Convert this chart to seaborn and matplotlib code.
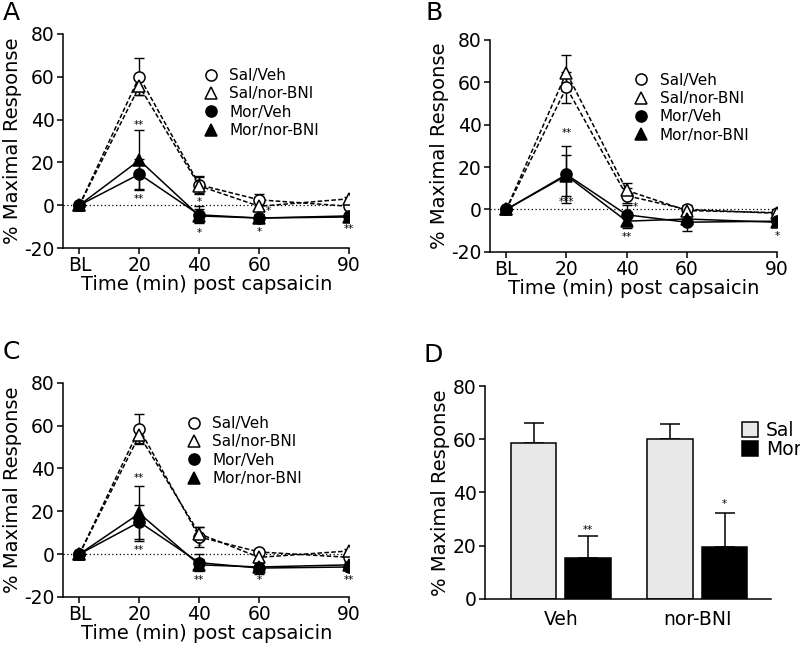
import numpy as np
import pandas as pd
import matplotlib
matplotlib.use('Agg')
import matplotlib.pyplot as plt
from matplotlib.lines import Line2D
from matplotlib.patches import Patch
import seaborn as sns

# --- style ---
sns.set_style('ticks')
plt.rcParams.update({
    'font.family': ['DejaVu Sans'],
    'axes.unicode_minus': False,
    'text.color': 'black',
    'axes.labelcolor': 'black',
    'axes.edgecolor': 'black',
    'xtick.color': 'black',
    'ytick.color': 'black',
    'axes.linewidth': 1.1,
    'xtick.major.width': 1.1,
    'ytick.major.width': 1.1,
    'xtick.major.size': 4,
    'ytick.major.size': 4,
    'xtick.labelsize': 13.5,
    'ytick.labelsize': 13.5,
})

# --- data ---
time = [0, 20, 40, 60, 90]
time_labels = ['BL', '20', '40', '60', '90']
series = ['Sal/Veh', 'Sal/nor-BNI', 'Mor/Veh', 'Mor/nor-BNI']

A_sal_veh = [0, 60.0, 9.5, 2.5, -0.5]
A_sal_veh_err = [0, 8.5, 4.0, 2.5, 1.5]
A_sal_nor = [0, 55.5, 9.0, -0.5, 3.0]
A_sal_nor_err = [0, 4.0, 4.0, 2.0, 1.0]
A_mor_veh = [0, 14.5, -4.5, -6.0, -5.0]
A_mor_veh_err = [0, 7.0, 4.0, 2.0, 1.5]
A_mor_nor = [0, 21.0, -5.0, -6.0, -5.5]
A_mor_nor_err = [0, 14.0, 3.0, 2.0, 1.5]
A_stars = [(20, 37.5, '**'), (20, 3.0, '**'), (40, 1.5, '*'), (40, -13, '*'),
           (60, -12.5, '*'), (63, -2.5, '*'), (90, -11, '**')]

B_sal_veh = [0, 57.5, 6.5, 0.0, -1.8]
B_sal_veh_err = [0, 7.5, 3.5, 2.0, 1.0]
B_sal_nor = [0, 64.5, 9.0, -0.5, -1.5]
B_sal_nor_err = [0, 8.5, 3.5, 2.0, 1.0]
B_mor_veh = [0, 16.5, -2.5, -6.0, -5.5]
B_mor_veh_err = [0, 13.5, 4.5, 4.0, 1.0]
B_mor_nor = [0, 16.0, -5.5, -4.5, -6.0]
B_mor_nor_err = [0, 9.5, 3.0, 2.0, 1.5]
B_stars = [(20, 36, '**'), (20, 3.5, '***'), (43, 1, '*'), (40, -13, '**'),
           (90, -12.5, '*')]

C_sal_veh = [0, 58.5, 8.0, 1.0, -1.5]
C_sal_veh_err = [0, 7.0, 4.5, 1.5, 1.0]
C_sal_nor = [0, 55.5, 9.5, -1.5, 1.5]
C_sal_nor_err = [0, 3.5, 3.0, 1.5, 1.0]
C_mor_veh = [0, 15.0, -4.0, -6.5, -6.0]
C_mor_veh_err = [0, 8.0, 4.0, 3.0, 1.5]
C_mor_nor = [0, 19.0, -5.0, -6.0, -5.0]
C_mor_nor_err = [0, 13.0, 2.5, 2.0, 1.5]
C_stars = [(20, 35.5, '**'), (20, 2.0, '**'), (40, 3.5, '*'), (40, -12, '**'),
           (60, -12, '*'), (90, -12, '**')]

D_groups = ['Veh', 'nor-BNI']
D_treat = ['Sal', 'Mor']
D_sal = [58.6, 60.2]
D_sal_err = [7.6, 5.7]
D_mor = [15.3, 19.6]
D_mor_err = [8.2, 12.8]
D_stars = [('Veh', 25.9, '**'), ('nor-BNI', 35.5, '*')]

# marker / line style for each series
styles = {
    'Sal/Veh': dict(marker='o', ls=(0, (3, 1.5)), face='white'),
    'Sal/nor-BNI': dict(marker='^', ls=(0, (3, 1.5)), face='white'),
    'Mor/Veh': dict(marker='o', ls='-', face='black'),
    'Mor/nor-BNI': dict(marker='^', ls='-', face='black'),
}

fig = plt.figure(figsize=(8, 6.51), dpi=100)
axA = fig.add_axes([0.079, 0.619, 0.3575, 0.329])
axB = fig.add_axes([0.6125, 0.613, 0.359, 0.326])
axC = fig.add_axes([0.079, 0.083, 0.3575, 0.329])
axD = fig.add_axes([0.606, 0.080, 0.3575, 0.327])


def line_panel(ax, vals, errs, stars, leg_anchor):
    ax.axhline(0, color='k', ls=(0, (1, 2)), lw=0.9, zorder=1)
    for name, y, e in zip(series, vals, errs):
        st = styles[name]
        ax.errorbar(time, y, yerr=e, fmt='none', ecolor='k', elinewidth=1.0,
                    capsize=3.5, capthick=1.0, zorder=2)
        sns.lineplot(x=time, y=y, ax=ax, color='k', lw=1.1, linestyle=st['ls'],
                     marker=st['marker'], markersize=8, markerfacecolor=st['face'],
                     markeredgecolor='k', markeredgewidth=1.1, zorder=3)
    for xs, ys, s in stars:
        ax.text(xs, ys, s, ha='center', va='center', fontsize=7.5)
    ax.set_xlim(-5.4, 90)
    ax.set_ylim(-20, 80)
    ax.set_yticks([-20, 0, 20, 40, 60, 80])
    ax.set_xticks(time)
    ax.set_xticklabels(time_labels)
    ax.tick_params(pad=2)
    ax.set_xlabel('Time (min) post capsaicin', fontsize=14, labelpad=0)
    ax.set_ylabel('% Maximal Response', fontsize=14, labelpad=2)
    handles = [Line2D([], [], ls='none', marker=styles[n]['marker'], markersize=8,
                      markerfacecolor=styles[n]['face'], markeredgecolor='k',
                      markeredgewidth=1.1) for n in series]
    ax.legend(handles, series, loc='upper left', bbox_to_anchor=leg_anchor,
              frameon=False, fontsize=11, handlelength=1.0, handletextpad=0.7,
              labelspacing=0.22, borderpad=0, borderaxespad=0)
    sns.despine(ax=ax)


line_panel(axA, [A_sal_veh, A_sal_nor, A_mor_veh, A_mor_nor],
           [A_sal_veh_err, A_sal_nor_err, A_mor_veh_err, A_mor_nor_err],
           A_stars, (0.49, 0.84))
line_panel(axB, [B_sal_veh, B_sal_nor, B_mor_veh, B_mor_nor],
           [B_sal_veh_err, B_sal_nor_err, B_mor_veh_err, B_mor_nor_err],
           B_stars, (0.50, 0.845))
line_panel(axC, [C_sal_veh, C_sal_nor, C_mor_veh, C_mor_nor],
           [C_sal_veh_err, C_sal_nor_err, C_mor_veh_err, C_mor_nor_err],
           C_stars, (0.43, 0.845))

# --- panel D: bars ---
df = pd.DataFrame({
    'group': D_groups * 2,
    'treat': [D_treat[0]] * 2 + [D_treat[1]] * 2,
    'value': D_sal + D_mor,
    'err': D_sal_err + D_mor_err,
})
sns.barplot(data=df, x='group', y='value', hue='treat', order=D_groups,
            hue_order=D_treat, palette={'Sal': '#e8e8e8', 'Mor': 'black'},
            errorbar=None, gap=0.17, edgecolor='k', linewidth=1.1, ax=axD,
            legend=False)
for cont, t in zip(axD.containers, D_treat):
    sub = df[df['treat'] == t].set_index('group').loc[D_groups]
    xs = [p.get_x() + p.get_width() / 2 for p in cont]
    axD.errorbar(xs, sub['value'], yerr=[np.zeros(len(xs)), sub['err']],
                 fmt='none', ecolor='k', elinewidth=1.1, capsize=7, capthick=1.1,
                 zorder=0)
mor_cont = axD.containers[1]
for (g, ys, s) in D_stars:
    p = mor_cont[D_groups.index(g)]
    axD.text(p.get_x() + p.get_width() / 2, ys, s, ha='center', va='center',
             fontsize=7.5)
axD.set_xlim(-0.557, 1.538)
axD.set_ylim(0, 80)
axD.set_yticks([0, 20, 40, 60, 80])
axD.set_xlabel('')
axD.set_ylabel('% Maximal Response', fontsize=14, labelpad=2)
axD.tick_params(axis='y', pad=2)
axD.tick_params(axis='x', length=0, pad=8, labelsize=13.5)
leg_handles = [Patch(facecolor='#e8e8e8', edgecolor='k', lw=1.1),
               Patch(facecolor='black', edgecolor='k', lw=1.1)]
axD.legend(leg_handles, D_treat, loc='upper left', bbox_to_anchor=(0.90, 0.835),
           frameon=False, fontsize=13.5, handlelength=0.85, handleheight=0.9,
           handletextpad=0.4, labelspacing=0.0, borderpad=0, borderaxespad=0)
sns.despine(ax=axD)

# panel letters
for lab, (x, y) in zip('ABCD', [(0.003, 0.998), (0.532, 0.998),
                                 (0.003, 0.478), (0.530, 0.473)]):
    fig.text(x, y, lab, fontsize=18, ha='left', va='top')

fig.savefig('out.png', dpi=100)
